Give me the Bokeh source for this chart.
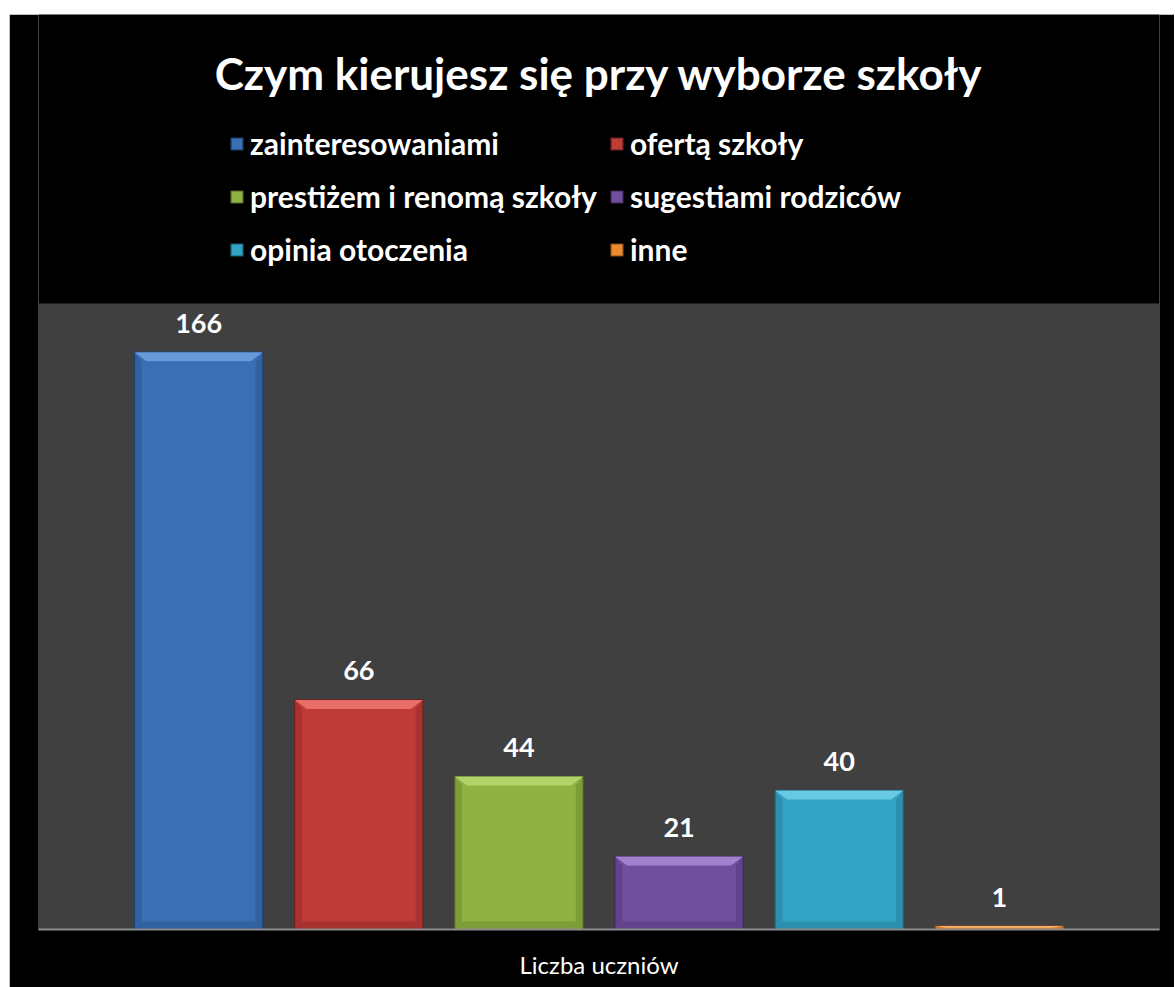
from bokeh.plotting import figure
from bokeh.models import (ColumnDataSource, LabelSet, Label, Legend, LegendItem,
                          BoxAnnotation, Spacer, Range1d)
from bokeh.core.properties import value
from bokeh.layouts import column, row
from bokeh.embed import file_html
from bokeh.resources import INLINE

# ---- data ----
title_text = "Czym kierujesz się przy wyborze szkoły"
categories = ["zainteresowaniami", "ofertą szkoły", "prestiżem i renomą szkoły",
              "sugestiami rodziców", "opinia otoczenia", "inne"]
values = [166, 66, 44, 21, 40, 1]
axis_title = "Liczba uczniów"
colors = ["#3A6FB6", "#BE3B38", "#8FB243", "#6F4F9E", "#33A3C4", "#EE8A2E"]
light = ["#6A9BDB", "#E9716C", "#B5D46C", "#A384CF", "#6BCBE6", "#F8B36E"]
dark = ["#2C5690", "#962C2A", "#6F8C32", "#55397C", "#26809B", "#B86A22"]
edge = ["#1F3E6A", "#6E1F1D", "#516826", "#3D2859", "#1B5E72", "#8A4E18"]

FONT = "Lato"
W, H = 1165, 973
ML, MR, MB = 29, 15, 58
frame_h = H - MB
px_per_unit = 626 / 180.0
y_top = frame_h / px_per_unit

p = figure(width=W, height=H, output_backend="svg", toolbar_location=None,
           x_range=Range1d(0, 7), y_range=Range1d(0, y_top),
           min_border_left=ML, min_border_right=MR, min_border_bottom=MB,
           min_border_top=0, background_fill_color="black",
           border_fill_color="black", outline_line_color=None)
p.grid.visible = False
p.yaxis.visible = False

# gray plot area
p.add_layout(BoxAnnotation(left=0, right=7, bottom=0, top=180,
                           fill_color="#404040", fill_alpha=1,
                           line_color=None, level="underlay"))

xs = [i + 1 for i in range(len(values))]
src = ColumnDataSource(dict(x=xs, top=values, color=colors, edge=edge,
                            label=[str(v) for v in values]))
bars = p.vbar(x="x", top="top", bottom=0, width=0.8, fill_color="color",
              line_color="edge", line_width=1.2, source=src)

# bevel facets computed from the values
bw = 0.4
sx = 0.075
top_xs, top_ys, side_xs, side_ys, bot_xs, bot_ys = [], [], [], [], [], []
top_c, side_c, bot_c = [], [], []
for i, v in enumerate(values):
    x = xs[i]
    L, R = x - bw, x + bw
    h = min(2.6, v * 0.5)
    top_xs.append([L, R, R - sx, L + sx])
    top_ys.append([v, v, v - h, v - h])
    top_c.append(light[i])
    sw = 0.045
    sh = min(2.3, v * 0.3)
    side_xs += [[L, L + sw, L + sw, L], [R, R - sw, R - sw, R]]
    side_ys += [[v, v - h, sh, 0], [v, v - h, sh, 0]]
    side_c += [dark[i], dark[i]]
    bot_xs.append([L, R, R - sw, L + sw])
    bot_ys.append([0, 0, sh, sh])
    bot_c.append(dark[i])

p.patches(top_xs, top_ys, fill_color=top_c, line_color=None, fill_alpha=0.95)
p.patches(side_xs, side_ys, fill_color=side_c, line_color=None, fill_alpha=0.55)
p.patches(bot_xs, bot_ys, fill_color=bot_c, line_color=None, fill_alpha=0.55)

labels = LabelSet(x="x", y="top", text="label", source=src, y_offset=29,
                  text_align="center", text_baseline="middle",
                  text_color="white", text_font=value(FONT),
                  text_font_style=value("bold"), text_font_size=value("27px"))
p.add_layout(labels)

# x axis
p.xaxis.ticker = []
p.xaxis.axis_line_color = "#8C8C8C"
p.xaxis.axis_line_width = 2
p.xaxis.major_tick_line_color = None
p.xaxis.minor_tick_line_color = None
p.xaxis.major_label_text_font_size = "0px"
p.xaxis.axis_label = axis_title
p.xaxis.axis_label_text_color = "white"
p.xaxis.axis_label_text_font = FONT
p.xaxis.axis_label_text_font_style = "normal"
p.xaxis.axis_label_text_font_size = "24px"
p.xaxis.axis_label_standoff = 20

# title
p.add_layout(Label(x=3.5, y=(frame_h - 58) / px_per_unit, text=title_text,
                   text_align="center", text_baseline="middle",
                   text_color="white", text_font=FONT, text_font_style="bold",
                   text_font_size="44px"))

# legend: two columns of three
def make_legend(idx, loc):
    items = [LegendItem(label=categories[i], renderers=[bars], index=i) for i in idx]
    return Legend(items=items, location=loc, orientation="vertical",
                  background_fill_alpha=0, border_line_alpha=0,
                  label_text_color="white", label_text_font=FONT,
                  label_text_font_style="bold", label_text_font_size="30px",
                  glyph_width=15, glyph_height=15, label_standoff=6,
                  label_height=36, spacing=17, padding=0, margin=0)

leg_bottom = frame_h - 253
p.add_layout(make_legend([0, 2, 4], (191, leg_bottom)))
p.add_layout(make_legend([1, 3, 5], (571, leg_bottom)))

layout = column(Spacer(height=14, width=W + 9),
                row(Spacer(width=9, height=H), p, spacing=0), spacing=0)
open("out.html", "w").write(file_html(layout, INLINE))
